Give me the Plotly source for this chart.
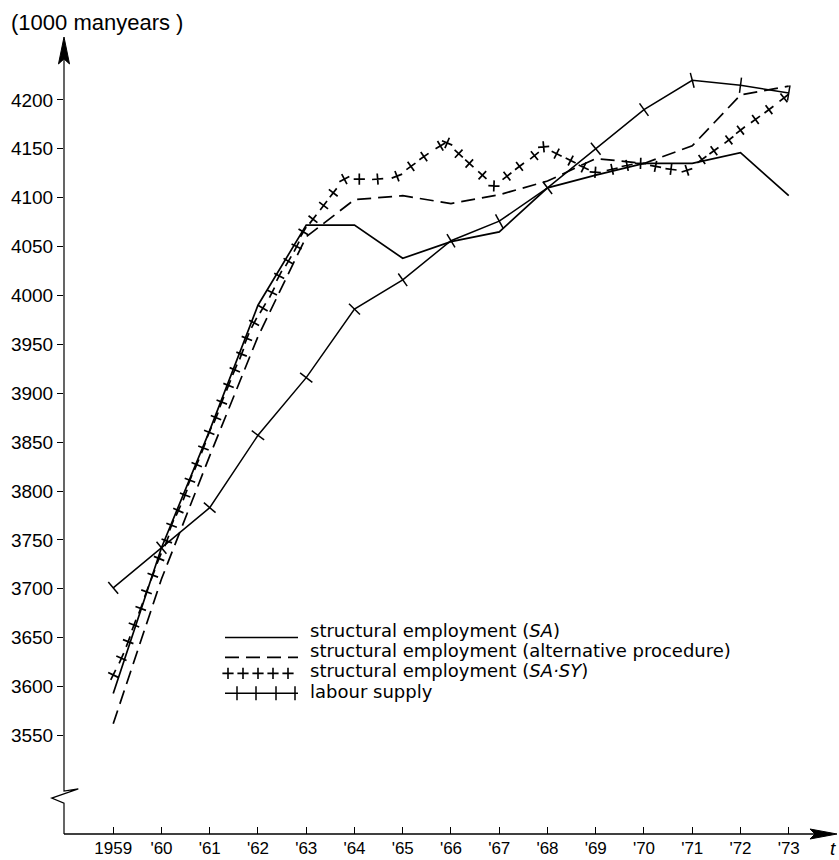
import math
import plotly.graph_objects as go

# ---- data -----------------------------------------------------------------
years = list(range(1959, 1974))
year_labels = ["1959", "'60", "'61", "'62", "'63", "'64", "'65", "'66",
               "'67", "'68", "'69", "'70", "'71", "'72", "'73"]

# structural employment (SA), 1000 manyears
struct_sa = [3593, 3742, 3862, 3990, 4072, 4072, 4038, 4055,
             4065, 4110, 4123, 4135, 4135, 4146, 4102]

# structural employment, alternative procedure
struct_alt = [3562, 3710, 3836, 3958, 4060, 4098, 4102, 4094,
              4103, 4117, 4140, 4135, 4153, 4205, 4214]

# labour supply
labour_supply = [3701, 3742, 3783, 3857, 3916, 3986, 4016, 4056,
                 4076, 4110, 4150, 4190, 4220, 4215, 4207]

# structural employment (SA.SY), plotted as crosses along the curve
sasy_time = [1959.00, 1959.17, 1959.31, 1959.43, 1959.57, 1959.69, 1959.82,
             1959.95, 1960.11, 1960.21, 1960.35, 1960.49, 1960.59, 1960.73,
             1960.87, 1960.99, 1961.13, 1961.25, 1961.39, 1961.52, 1961.66,
             1961.77, 1961.92, 1962.10, 1962.29, 1962.44, 1962.63, 1962.80,
             1962.94, 1963.14, 1963.36, 1963.56, 1963.79, 1964.10, 1964.48,
             1964.88, 1965.17, 1965.44, 1965.78, 1965.92, 1966.16, 1966.38,
             1966.65, 1966.89, 1967.16, 1967.42, 1967.73, 1967.92, 1968.19,
             1968.48, 1968.75, 1968.99, 1969.34, 1969.65, 1969.93, 1970.24,
             1970.56, 1970.89, 1971.20, 1971.45, 1971.76, 1972.00, 1972.31,
             1972.59, 1972.90]
sasy_value = [3612, 3629, 3646, 3663, 3680, 3697, 3714,
              3731, 3749, 3765, 3780, 3796, 3811, 3827,
              3844, 3860, 3875, 3891, 3908, 3924, 3940,
              3956, 3972, 3987, 4003, 4020, 4035, 4050,
              4065, 4078, 4092, 4105, 4119, 4119, 4119,
              4122, 4132, 4142, 4153, 4156, 4145, 4135,
              4123, 4112, 4122, 4132, 4143, 4152, 4145,
              4138, 4131, 4126, 4129, 4133, 4135, 4132,
              4129, 4128, 4139, 4148, 4159, 4169, 4180,
              4190, 4202]

y_tick_values = list(range(3550, 4201, 50))

# ---- page geometry ----------------------------------------------------------
W, H = 839, 860
ML, MR, MT, MB = 64, 2, 37, 24
PW, PH = W - ML - MR, H - MT - MB
X_RANGE = [1957.98, 1974.0]
Y_RANGE = [3449.3, 4264.3]
SX = PW / (X_RANGE[1] - X_RANGE[0])   # px per year
SY = PH / (Y_RANGE[1] - Y_RANGE[0])   # px per 1000 manyears

FONT = "Liberation Sans, Arial, sans-serif"
KEY_FONT = "DejaVu Sans, Liberation Sans, sans-serif"
INK = "black"


def px(x):
    return (x - ML) / PW


def py(y):
    return (H - MB - y) / PH


def tangent_angles(xs, ys):
    """Screen-space direction of the curve at each point (clockwise degrees)."""
    out = []
    n = len(xs)
    for i in range(n):
        a, b = max(i - 1, 0), min(i + 1, n - 1)
        dx = (xs[b] - xs[a]) * SX
        dy = (ys[b] - ys[a]) * SY
        out.append(-math.degrees(math.atan2(dy, dx)))
    return out


fig = go.Figure()

fig.add_trace(go.Scatter(
    x=years, y=struct_sa, mode="lines",
    line=dict(color=INK, width=1.7), showlegend=False, hoverinfo="skip"))

fig.add_trace(go.Scatter(
    x=years, y=struct_alt, mode="lines",
    line=dict(color=INK, width=1.7, dash="14px,7px"),
    showlegend=False, hoverinfo="skip"))

fig.add_trace(go.Scatter(
    x=sasy_time, y=sasy_value, mode="markers",
    marker=dict(symbol="cross-thin", size=8, color=INK,
                angle=tangent_angles(sasy_time, sasy_value),
                line=dict(color=INK, width=1.7)),
    showlegend=False, hoverinfo="skip"))

fig.add_trace(go.Scatter(
    x=years, y=labour_supply, mode="lines+markers",
    line=dict(color=INK, width=1.5),
    marker=dict(symbol="line-ns", size=11, color=INK,
                angle=tangent_angles(years, labour_supply),
                line=dict(color=INK, width=1.5)),
    showlegend=False, hoverinfo="skip"))

# ---- key (drawn on a pixel-scaled overlay axis) -----------------------------
KEY_X0, KEY_X1 = 225, 298
fig.add_trace(go.Scatter(
    x=[KEY_X0, KEY_X1], y=[639, 639], xaxis="x2", yaxis="y2", mode="lines",
    line=dict(color=INK, width=1.7), showlegend=False, hoverinfo="skip"))
fig.add_trace(go.Scatter(
    x=[KEY_X0, KEY_X1], y=[659, 659], xaxis="x2", yaxis="y2", mode="lines",
    line=dict(color=INK, width=1.7, dash="14px,7px"),
    showlegend=False, hoverinfo="skip"))
fig.add_trace(go.Scatter(
    x=[228, 243, 258, 273, 288], y=[675] * 5, xaxis="x2", yaxis="y2",
    mode="markers",
    marker=dict(symbol="cross-thin", size=8, color=INK,
                line=dict(color=INK, width=1.6)),
    showlegend=False, hoverinfo="skip"))
fig.add_trace(go.Scatter(
    x=[KEY_X0, KEY_X1], y=[695, 695], xaxis="x2", yaxis="y2", mode="lines",
    line=dict(color=INK, width=1.5), showlegend=False, hoverinfo="skip"))
fig.add_trace(go.Scatter(
    x=[237, 256, 276, 295], y=[695] * 4, xaxis="x2", yaxis="y2",
    mode="markers",
    marker=dict(symbol="line-ns", size=10, color=INK,
                line=dict(color=INK, width=1.5)),
    showlegend=False, hoverinfo="skip"))

key_rows = [
    ("structural employment (<i>SA</i>)", 632),
    ("structural employment (alternative procedure)", 652),
    ("structural employment (<i>SA\u00b7SY</i>)", 672),
    ("labour supply", 693),
]
annotations = []
for text, y in key_rows:
    annotations.append(dict(
        x=px(308), y=py(y), xref="paper", yref="paper", text=text,
        showarrow=False, xanchor="left", yanchor="middle",
        font=dict(family=KEY_FONT, size=18, color=INK)))

annotations.append(dict(
    x=px(9), y=py(22), xref="paper", yref="paper",
    text="(1000 manyears )", showarrow=False, xanchor="left",
    yanchor="middle", font=dict(family=FONT, size=22, color=INK)))
annotations.append(dict(
    x=px(828), y=py(851), xref="paper", yref="paper", text="<i>t</i>",
    showarrow=False, xanchor="left", yanchor="middle",
    font=dict(family=FONT, size=19, color=INK)))

# ---- hand-drawn axes: arrows and the break on the ordinate ------------------
def path(points, close=False):
    d = "M " + " L ".join(f"{px(x):.5f},{py(y):.5f}" for x, y in points)
    return d + (" Z" if close else "")


shapes = [
    # ordinate with break
    dict(type="path", xref="paper", yref="paper",
         path=path([(64, 60), (64, 793), (78.3, 790.7), (51.7, 800),
                    (64, 805), (64, 836)]),
         line=dict(color=INK, width=1.2)),
    # ordinate arrow head
    dict(type="path", xref="paper", yref="paper",
         path=path([(64, 37), (58.5, 64), (64, 59), (69.5, 64)], close=True),
         fillcolor=INK, line=dict(color=INK, width=1)),
    # abscissa
    dict(type="line", xref="paper", yref="paper",
         x0=px(64), y0=py(836), x1=px(815), y1=py(836),
         line=dict(color=INK, width=1.3)),
    # abscissa arrow head
    dict(type="path", xref="paper", yref="paper",
         path=path([(837, 836), (810, 831), (815, 836), (810, 841)],
                   close=True),
         fillcolor=INK, line=dict(color=INK, width=1)),
]

fig.update_layout(
    width=W, height=H,
    margin=dict(l=ML, r=MR, t=MT, b=MB, pad=0),
    paper_bgcolor="white", plot_bgcolor="white",
    font=dict(family=FONT, color=INK),
    showlegend=False,
    xaxis=dict(range=X_RANGE, tickvals=years, ticktext=year_labels,
               ticks="inside", ticklen=7, tickwidth=1.2, tickcolor=INK,
               showline=False, showgrid=False, zeroline=False,
               ticklabelstandoff=2,
               tickfont=dict(family=FONT, size=17, color=INK)),
    yaxis=dict(range=Y_RANGE, tickvals=y_tick_values,
               ticks="outside", ticklen=6, tickwidth=1.2, tickcolor=INK,
               showline=False, showgrid=False, zeroline=False,
               tickfont=dict(family=FONT, size=19, color=INK)),
    xaxis2=dict(range=[ML, W - MR], overlaying="x", visible=False,
                showgrid=False, zeroline=False),
    yaxis2=dict(range=[H - MB, MT], overlaying="y", visible=False,
                showgrid=False, zeroline=False),
    annotations=annotations,
    shapes=shapes,
)

fig.write_html("out.html")
